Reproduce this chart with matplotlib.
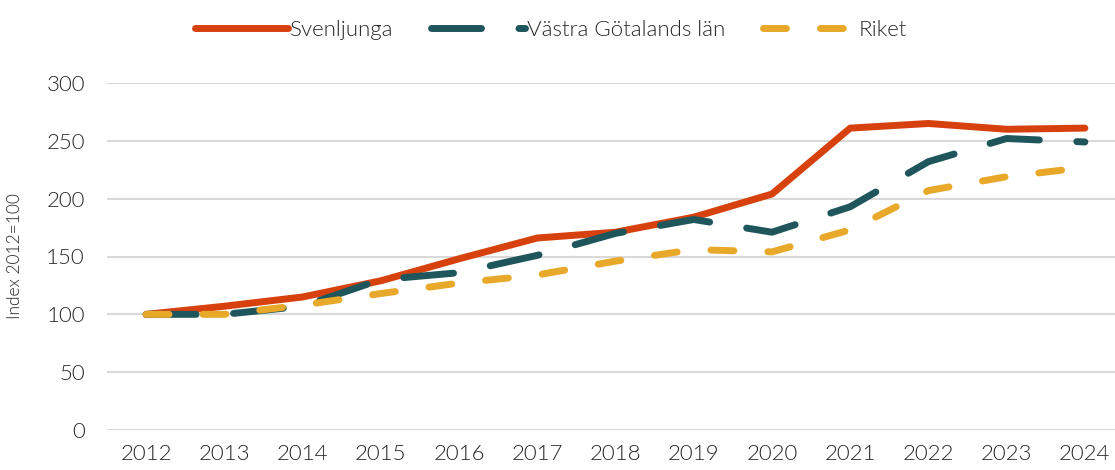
import numpy as np
import matplotlib.pyplot as plt

# Index 2012=100
years = ['2012', '2013', '2014', '2015', '2016', '2017', '2018',
         '2019', '2020', '2021', '2022', '2023', '2024']
svenljunga = [100, 107, 115, 129, 148, 166, 171, 184, 204, 261, 265, 260, 261]
vastra_gotaland = [100, 100, 107, 130, 136, 151, 170, 182, 171, 193, 232, 252, 249]
riket = [100, 100, 108, 118, 127, 134, 146, 156, 154, 173, 207, 219, 227]

plt.rcParams['font.family'] = ['Lato', 'DejaVu Sans']
plt.rcParams['font.weight'] = 300
plt.rcParams['text.color'] = '#262626'

fig = plt.figure(figsize=(11.15, 4.70), dpi=100)
ax = fig.add_axes([107 / 1115, 40 / 470, 1017 / 1115, 347 / 470])

x = np.arange(len(years))
ax.plot(x, svenljunga, color='#D6410E', lw=5, solid_capstyle='round',
        solid_joinstyle='round', label='Svenljunga', zorder=3)
ax.plot(x, vastra_gotaland, color='#1F565C', lw=5, dashes=(7.2, 5.4),
        dash_capstyle='round', label='Västra Götalands län', zorder=4)
ax.plot(x, riket, color='#E8A829', lw=5, dashes=(3.3, 4.9),
        dash_capstyle='round', label='Riket', zorder=5)

ax.set_xlim(-0.5, len(years) - 0.5)
ax.set_ylim(0, 300)
ax.set_yticks(range(0, 301, 50))
ax.set_xticks(x)
ax.set_xticklabels(years)
ax.grid(axis='y', color='#D9D9D9', lw=1.5)
ax.set_axisbelow(True)
for s in ax.spines.values():
    s.set_visible(False)
ax.tick_params(length=0, labelsize=16, labelcolor='#262626', pad=10)
ax.tick_params(axis='y', pad=16)
ax.set_ylabel('Index 2012=100', fontsize=12.5, color='#262626', fontweight=300)
ax.yaxis.set_label_coords(-0.083, 0.5)

fig.legend(loc='upper center', bbox_to_anchor=(0.494, 1.0), ncol=3,
           frameon=False, fontsize=16, handlelength=4.2, handletextpad=0.1,
           columnspacing=1.7)

fig.savefig('out.png', dpi=100)
